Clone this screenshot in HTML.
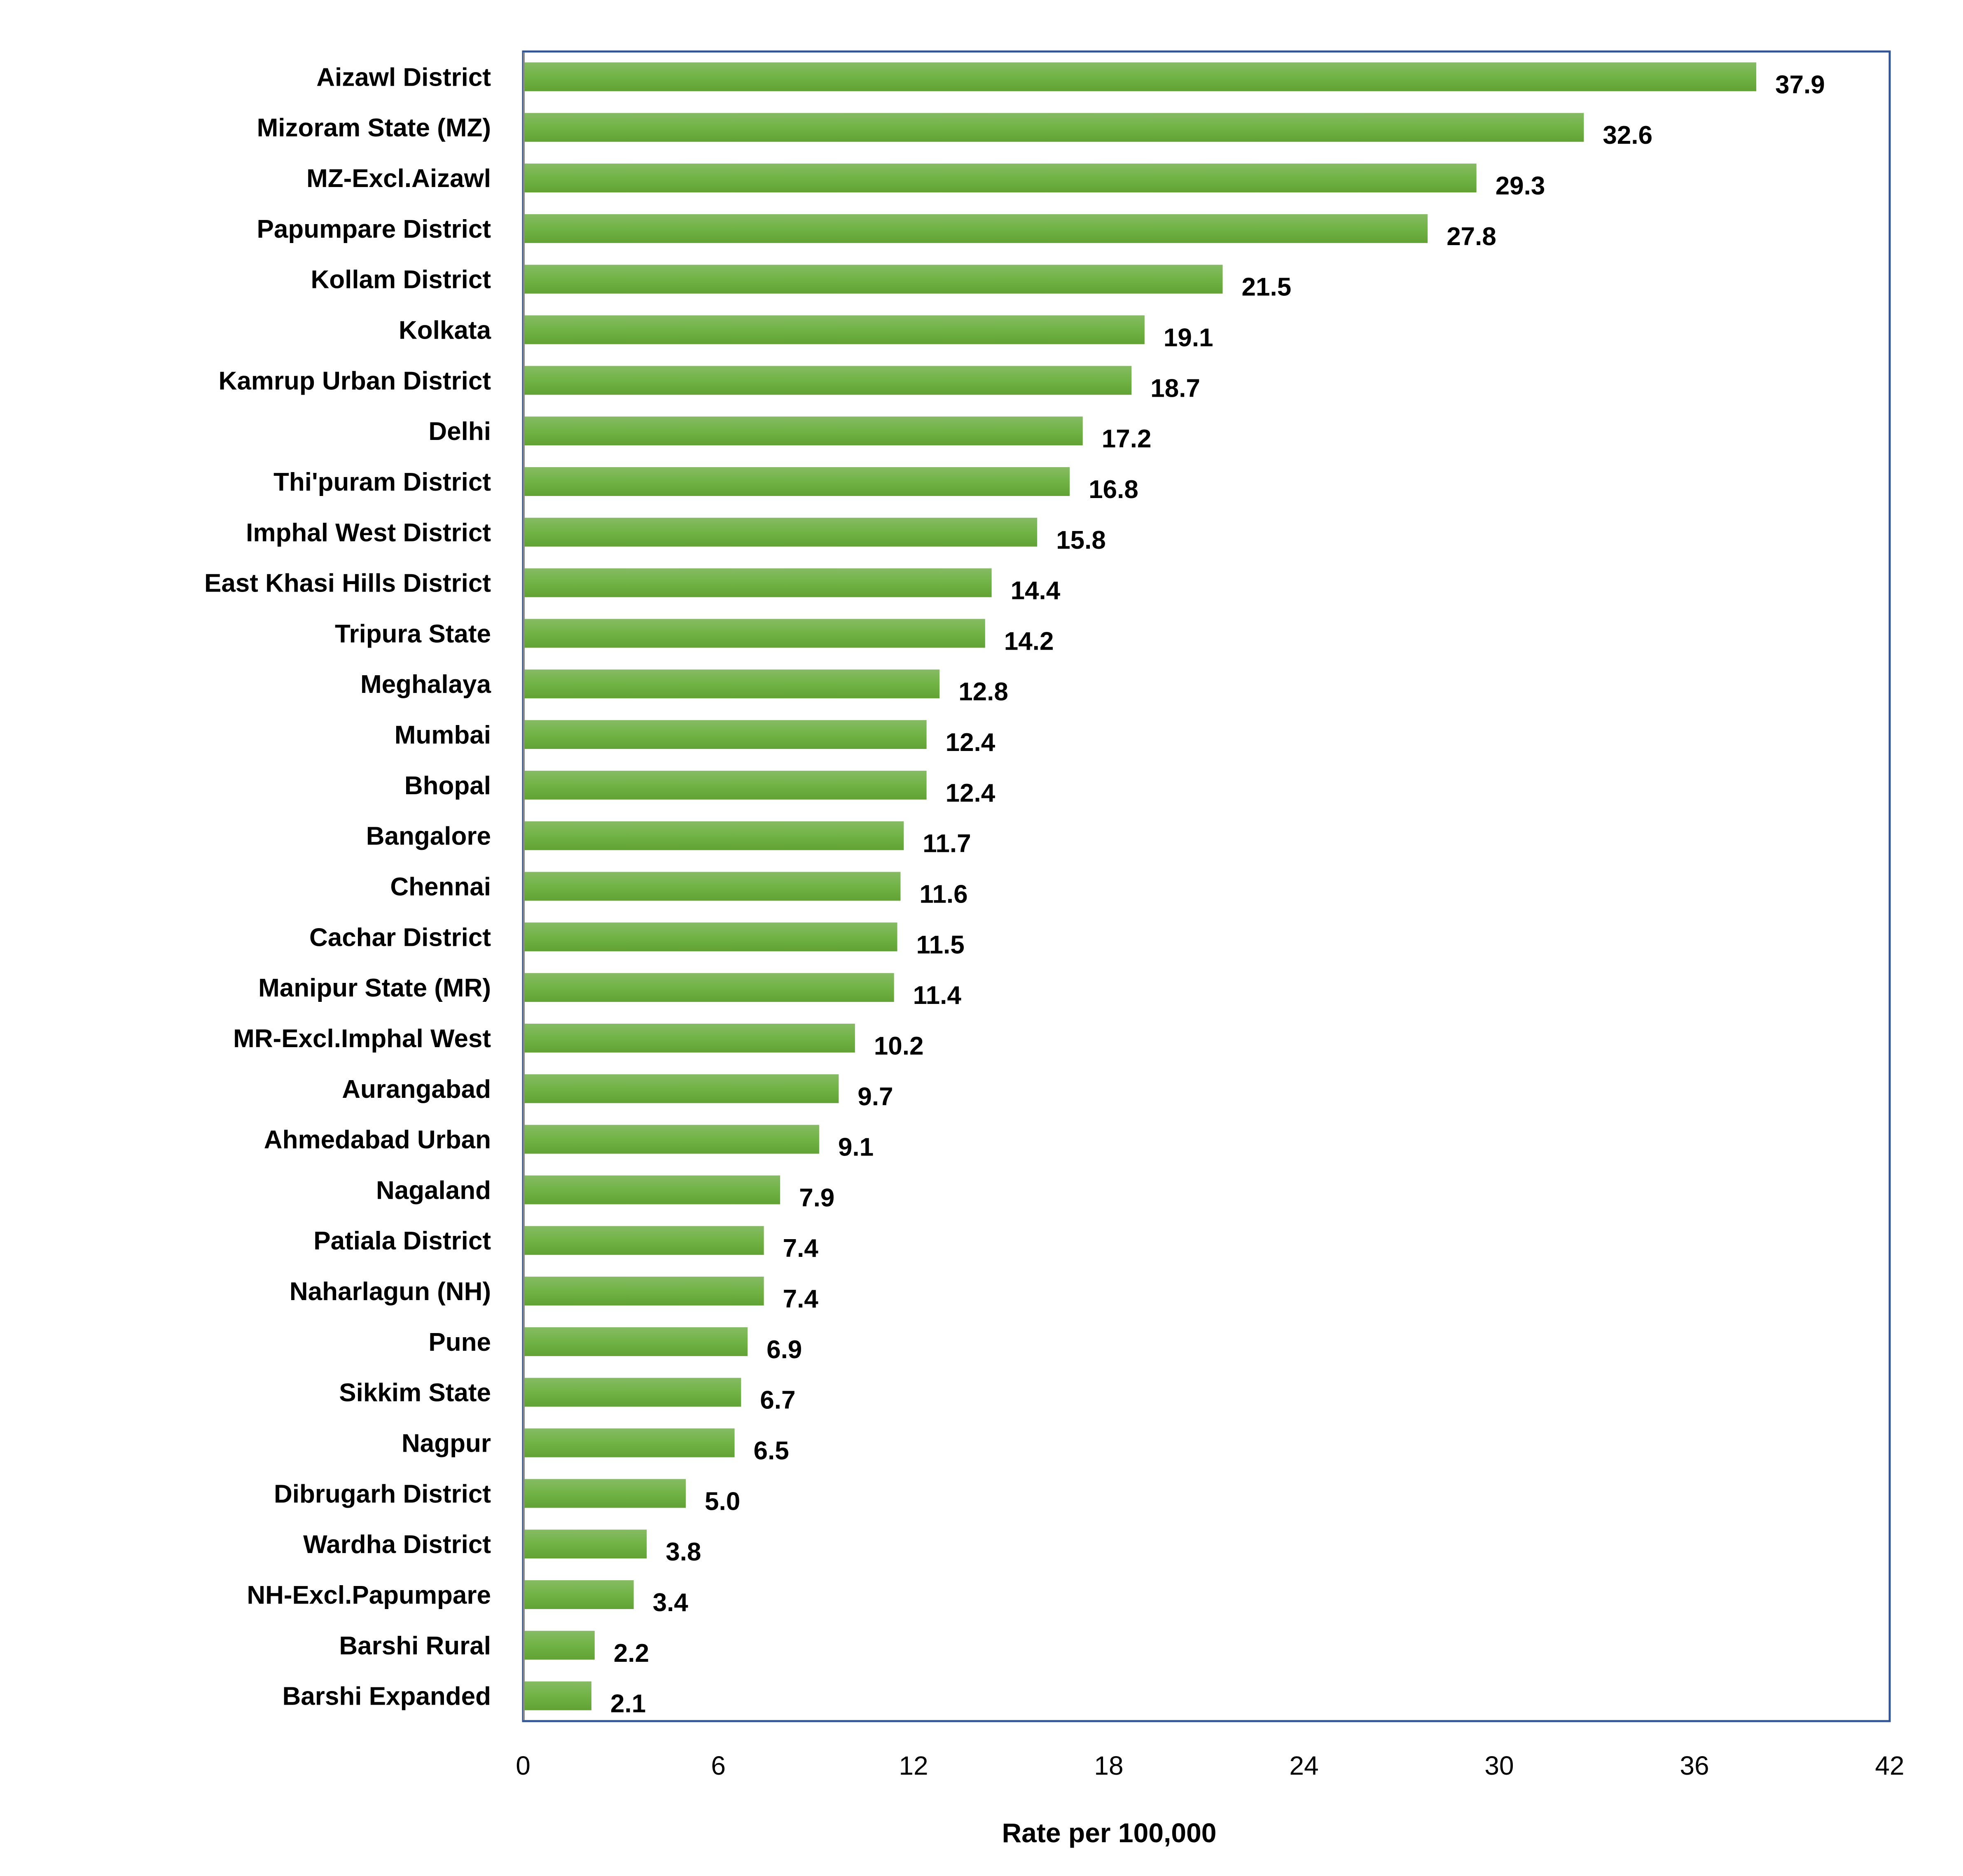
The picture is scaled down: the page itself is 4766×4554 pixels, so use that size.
<!DOCTYPE html>
<html><head><meta charset="utf-8"><style>
html,body{margin:0;padding:0;background:#fff;}
svg{display:block;font-family:"Liberation Sans",sans-serif;}
</style></head><body>
<svg id="chart" width="4766" height="4554" viewBox="0 0 4766 4554" xmlns="http://www.w3.org/2000/svg">
<defs><linearGradient id="g" x1="0" y1="0" x2="0" y2="1"><stop offset="0" stop-color="#86bb64"/><stop offset="0.5" stop-color="#71b345"/><stop offset="1" stop-color="#62a234"/></linearGradient></defs>
<g id="bars"></g>
<g id="labels"></g>
<g id="vals"></g>
<g id="ticks"></g>
<rect x="1270" y="125" width="3318" height="4053" fill="none" stroke="#2f5597" stroke-width="5"/>
<line x1="1272" y1="127" x2="1272" y2="4176" stroke="#8c8c8c" stroke-width="4"/>
<text x="2693" y="4472" text-anchor="middle" font-size="66" font-weight="bold">Rate per 100,000</text>
</svg>
<script>
const categories = ["Aizawl District","Mizoram State (MZ)","MZ-Excl.Aizawl","Papumpare District","Kollam District","Kolkata","Kamrup Urban District","Delhi","Thi'puram District","Imphal West District","East Khasi Hills District","Tripura State","Meghalaya","Mumbai","Bhopal","Bangalore","Chennai","Cachar District","Manipur State (MR)","MR-Excl.Imphal West","Aurangabad","Ahmedabad Urban","Nagaland","Patiala District","Naharlagun (NH)","Pune","Sikkim State","Nagpur","Dibrugarh District","Wardha District","NH-Excl.Papumpare","Barshi Rural","Barshi Expanded"];
const values = [37.9,32.6,29.3,27.8,21.5,19.1,18.7,17.2,16.8,15.8,14.4,14.2,12.8,12.4,12.4,11.7,11.6,11.5,11.4,10.2,9.7,9.1,7.9,7.4,7.4,6.9,6.7,6.5,5.0,3.8,3.4,2.2,2.1];
const tickValues = [0,6,12,18,24,30,36,42];
const NS="http://www.w3.org/2000/svg";
const X0=1270,X1=4588,Y0=125,Y1=4178,XMAX=42;
const x=v=>X0+(v/XMAX)*(X1-X0);
const band=(Y1-Y0)/categories.length;
const yc=i=>Y0+band*(i+0.5);
const BH=70;
const bars=document.getElementById('bars'),labels=document.getElementById('labels'),vals=document.getElementById('vals'),ticks=document.getElementById('ticks');
categories.forEach((c,i)=>{
  const r=document.createElementNS(NS,'rect');
  r.setAttribute('x',X0);r.setAttribute('y',yc(i)-BH/2);
  r.setAttribute('width',x(values[i])-X0);r.setAttribute('height',BH);
  r.setAttribute('fill','url(#g)');
  
  
  bars.appendChild(r);
  const t=document.createElementNS(NS,'text');
  t.setAttribute('x',1192);t.setAttribute('y',yc(i)+22);
  t.setAttribute('text-anchor','end');t.setAttribute('font-size','62');t.setAttribute('font-weight','bold');
  t.textContent=c;
  
  
  labels.appendChild(t);
  const v=document.createElementNS(NS,'text');
  v.setAttribute('x',x(values[i])+46);v.setAttribute('y',yc(i)+40);
  v.setAttribute('font-size','62');v.setAttribute('font-weight','bold');
  v.textContent=values[i].toFixed(1);
  
  
  vals.appendChild(v);
});
tickValues.forEach(tv=>{
  const t=document.createElementNS(NS,'text');
  t.setAttribute('x',x(tv));t.setAttribute('y',4308);
  t.setAttribute('text-anchor','middle');t.setAttribute('font-size','64');
  t.textContent=String(tv);
  
  
  ticks.appendChild(t);
});
</script>
</body></html>
